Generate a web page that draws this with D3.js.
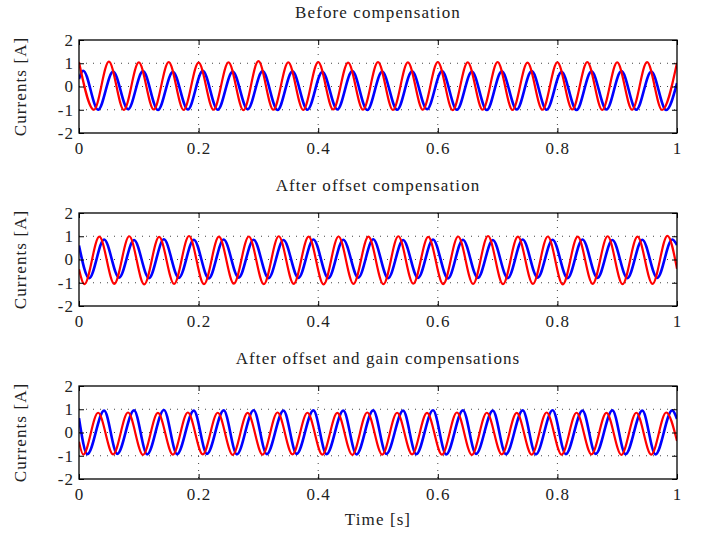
<!DOCTYPE html>
<html>
<head>
<meta charset="utf-8">
<script src="https://cdn.jsdelivr.net/npm/d3@7"></script>
<style>
	body { margin: 0; background: #ffffff; }
	text { font-family: "Liberation Serif", "Times New Roman", serif; fill: #222222; letter-spacing: 1.1px; }
</style>
</head>
<body>
<div id="chart"></div>
<script>
// panel titles
var titles = ["Before compensation", "After offset compensation", "After offset and gain compensations"];
var xTicks = [0, 0.2, 0.4, 0.6, 0.8, 1];
var yTicks = [-2, -1, 0, 1, 2];

// current extrema, [time s, current A]
var redBefore = [[0,1.05],[0.025,-1.00],[0.05,1.07],[0.075,-1.01],[0.10,1.04],[0.125,-0.99],[0.15,1.05],[0.175,-1.01],[0.20,1.03],[0.225,-1.00],[0.25,1.04],[0.275,-1.02],[0.30,1.09],[0.325,-1.00],[0.35,1.04],[0.375,-1.01],[0.40,1.05],[0.425,-0.99],[0.45,1.03],[0.475,-1.00],[0.50,1.05],[0.525,-1.01],[0.55,1.04],[0.575,-1.00],[0.60,1.05],[0.625,-1.02],[0.65,1.04],[0.675,-1.00],[0.70,1.05],[0.725,-1.01],[0.75,1.03],[0.775,-1.00],[0.80,1.04],[0.825,-0.99],[0.85,1.05],[0.875,-1.01],[0.90,1.04],[0.925,-1.00],[0.95,1.05],[0.975,-1.01],[1.00,1.02]];
var blueBefore = [[0,0.32],[0.007,0.68],[0.032,-1.00],[0.057,0.64],[0.082,-0.98],[0.107,0.66],[0.132,-1.01],[0.157,0.63],[0.182,-0.99],[0.207,0.67],[0.232,-1.00],[0.257,0.64],[0.282,-0.98],[0.307,0.66],[0.332,-1.01],[0.357,0.65],[0.382,-1.00],[0.407,0.63],[0.432,-0.99],[0.457,0.66],[0.482,-1.01],[0.507,0.64],[0.532,-1.00],[0.557,0.65],[0.582,-0.98],[0.607,0.66],[0.632,-1.00],[0.657,0.64],[0.682,-1.01],[0.707,0.65],[0.732,-0.99],[0.757,0.66],[0.782,-1.00],[0.807,0.63],[0.832,-1.01],[0.857,0.65],[0.882,-0.99],[0.907,0.66],[0.932,-1.00],[0.957,0.64],[0.982,-1.01],[1.00,0.15]];

var redOffset = [[0,-0.42],[0.009,-1.06],[0.034,0.98],[0.059,-1.05],[0.084,1.00],[0.109,-1.07],[0.134,0.97],[0.159,-1.05],[0.184,1.01],[0.209,-1.06],[0.234,0.98],[0.259,-1.04],[0.284,0.99],[0.309,-1.06],[0.334,1.00],[0.359,-1.05],[0.384,0.98],[0.409,-1.07],[0.434,0.99],[0.459,-1.05],[0.484,0.98],[0.509,-1.06],[0.534,1.00],[0.559,-1.04],[0.584,0.97],[0.609,-1.06],[0.634,0.99],[0.659,-1.05],[0.684,1.01],[0.709,-1.06],[0.734,0.98],[0.759,-1.05],[0.784,0.99],[0.809,-1.07],[0.834,0.98],[0.859,-1.05],[0.884,1.00],[0.909,-1.06],[0.934,0.98],[0.959,-1.05],[0.984,1.02],[1.00,-0.40]];
var blueOffset = [[0,0.60],[0.017,-0.80],[0.042,0.86],[0.067,-0.78],[0.092,0.84],[0.117,-0.80],[0.142,0.87],[0.167,-0.79],[0.192,0.85],[0.217,-0.81],[0.242,0.86],[0.267,-0.78],[0.292,0.85],[0.317,-0.80],[0.342,0.84],[0.367,-0.79],[0.392,0.86],[0.417,-0.80],[0.442,0.85],[0.467,-0.78],[0.492,0.87],[0.517,-0.80],[0.542,0.84],[0.567,-0.79],[0.592,0.86],[0.617,-0.81],[0.642,0.85],[0.667,-0.79],[0.692,0.84],[0.717,-0.80],[0.742,0.86],[0.767,-0.78],[0.792,0.85],[0.817,-0.80],[0.842,0.86],[0.867,-0.79],[0.892,0.84],[0.917,-0.80],[0.942,0.85],[0.967,-0.79],[0.992,0.86],[1.00,0.62]];

var redGain = [[0,-0.40],[0.007,-0.95],[0.032,0.85],[0.057,-0.94],[0.082,0.86],[0.107,-0.96],[0.132,0.84],[0.157,-0.95],[0.182,0.86],[0.207,-0.94],[0.232,0.85],[0.257,-0.96],[0.282,0.84],[0.307,-0.95],[0.332,0.86],[0.357,-0.94],[0.382,0.85],[0.407,-0.95],[0.432,0.84],[0.457,-0.96],[0.482,0.86],[0.507,-0.95],[0.532,0.85],[0.557,-0.94],[0.582,0.84],[0.607,-0.95],[0.632,0.86],[0.657,-0.96],[0.682,0.85],[0.707,-0.94],[0.732,0.84],[0.757,-0.95],[0.782,0.86],[0.807,-0.95],[0.832,0.85],[0.857,-0.94],[0.882,0.84],[0.907,-0.96],[0.932,0.85],[0.957,-0.95],[0.982,0.86],[1.00,-0.37]];
var blueGain = [[0,0.62],[0.014,-0.93],[0.042,0.94],[0.064,-0.92],[0.092,0.95],[0.114,-0.94],[0.142,0.97],[0.164,-0.93],[0.192,0.94],[0.214,-0.92],[0.242,0.95],[0.264,-0.94],[0.292,0.96],[0.314,-0.93],[0.342,0.94],[0.364,-0.92],[0.392,0.95],[0.414,-0.93],[0.442,0.94],[0.464,-0.94],[0.492,0.95],[0.514,-0.92],[0.542,0.94],[0.564,-0.93],[0.592,0.96],[0.614,-0.94],[0.642,0.95],[0.664,-0.92],[0.692,0.94],[0.714,-0.93],[0.742,0.95],[0.764,-0.94],[0.792,0.96],[0.814,-0.93],[0.842,0.94],[0.864,-0.92],[0.892,0.95],[0.914,-0.93],[0.942,0.94],[0.964,-0.94],[0.992,0.95],[1.00,0.58]];

chart('#chart');

function chart(id) {
	var width = 703;
	var height = 535;

	var svg = d3.select(id).append("svg")
		.attr("width", width)
		.attr("height", height);

	var panels = [
		{ title: titles[0], red: redBefore, blue: blueBefore, top: 40 },
		{ title: titles[1], red: redOffset, blue: blueOffset, top: 213 },
		{ title: titles[2], red: redGain, blue: blueGain, top: 386 }
	];

	panels.forEach(function(p) {
		createPanel(svg, p);
	});

	// x label only under the last panel
	svg.append("text")
		.attr("x", 378).attr("y", 525)
		.attr("text-anchor", "middle")
		.style("font-size", "17px")
		.text("Time [s]");
}

function createPanel(svg, props) {
	var left = 79, right = 677;
	var h = 93;

	var x = d3.scaleLinear().domain([0, 1]).range([0, right - left]);
	var y = d3.scaleLinear().domain([-2, 2]).range([h, 0]);
	var w = right - left;

	var g = svg.append("g")
		.attr("transform", "translate(" + left + "," + props.top + ")");

	// grid
	g.append("g").selectAll("line")
		.data(yTicks.filter(function(d) { return d > -2 && d < 2; }))
		.join("line")
		.attr("x1", 0).attr("x2", w)
		.attr("y1", function(d) { return y(d); }).attr("y2", function(d) { return y(d); })
		.attr("stroke", "#444")
		.attr("stroke-width", 1)
		.attr("stroke-dasharray", "1,6");

	g.append("g").selectAll("line")
		.data(xTicks.filter(function(d) { return d > 0 && d < 1; }))
		.join("line")
		.attr("x1", function(d) { return x(d); }).attr("x2", function(d) { return x(d); })
		.attr("y1", 0).attr("y2", h)
		.attr("stroke", "#444")
		.attr("stroke-width", 1)
		.attr("stroke-dasharray", "1,6");

	var line = d3.line()
		.x(function(d) { return x(d[0]); })
		.y(function(d) { return y(d[1]); })
		.curve(d3.curveMonotoneX);

	var clip = "clip" + props.top;
	g.append("clipPath").attr("id", clip)
		.append("rect").attr("width", w).attr("height", h);

	g.append("path")
		.datum(props.blue)
		.attr("d", line)
		.attr("fill", "none")
		.attr("stroke", "#0000ff")
		.attr("stroke-width", 2.6)
		.attr("clip-path", "url(#" + clip + ")");

	g.append("path")
		.datum(props.red)
		.attr("d", line)
		.attr("fill", "none")
		.attr("stroke", "#ff0000")
		.attr("stroke-width", 2.2)
		.attr("clip-path", "url(#" + clip + ")");

	// axes, ticks pointing inward
	var xb = g.append("g")
		.attr("transform", "translate(0," + h + ")")
		.call(d3.axisBottom(x).tickValues(xTicks).tickSizeInner(-5).tickSizeOuter(0).tickPadding(9).tickFormat(String));
	var xt = g.append("g")
		.call(d3.axisTop(x).tickValues(xTicks).tickSizeInner(-5).tickSizeOuter(0).tickFormat(""));
	var yl = g.append("g")
		.call(d3.axisLeft(y).tickValues(yTicks).tickSizeInner(-5).tickSizeOuter(0).tickPadding(5).tickFormat(String));
	var yr = g.append("g")
		.attr("transform", "translate(" + w + ",0)")
		.call(d3.axisRight(y).tickValues(yTicks).tickSizeInner(-5).tickSizeOuter(0).tickFormat(""));

	[xb, xt, yl, yr].forEach(function(a) {
		a.select(".domain").remove();
		a.selectAll("line").attr("stroke", "#000");
		a.selectAll("text")
			.style("font-family", "'Liberation Serif', serif")
			.style("font-size", "17px")
			.attr("fill", "#333");
	});

	// frame
	g.append("rect")
		.attr("width", w).attr("height", h)
		.attr("fill", "none")
		.attr("stroke", "#000")
		.attr("stroke-width", 1.3);

	// title
	g.append("text")
		.attr("x", w / 2).attr("y", -22)
		.attr("text-anchor", "middle")
		.style("font-size", "17px")
		.text(props.title);

	// y label
	g.append("text")
		.attr("transform", "translate(-53," + (h / 2) + ") rotate(-90)")
		.attr("text-anchor", "middle")
		.style("font-size", "17px")
		.text("Currents [A]");
}
</script>
</body>
</html>
